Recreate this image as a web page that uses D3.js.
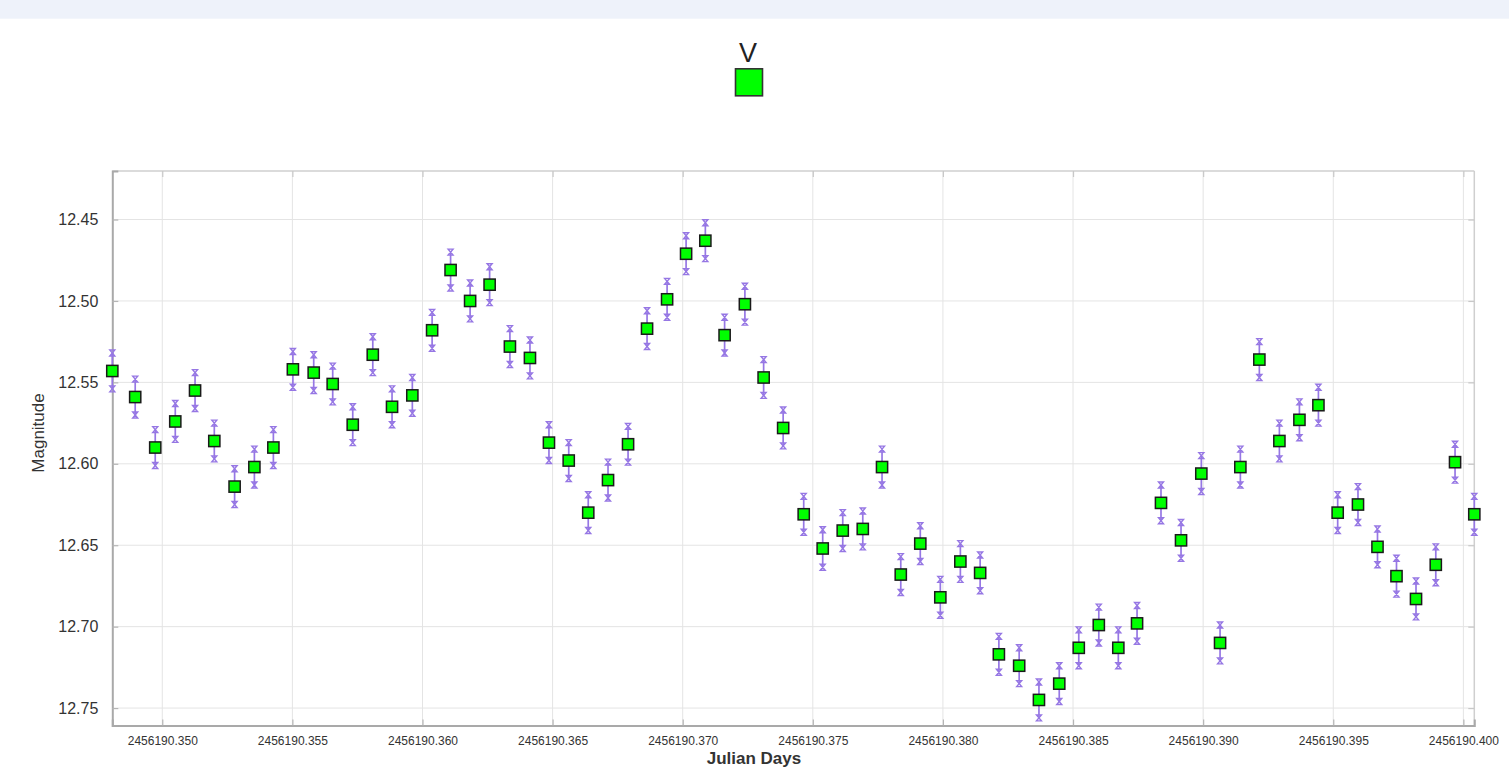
<!DOCTYPE html>
<html>
<head>
<meta charset="utf-8">
<script src="https://cdn.jsdelivr.net/npm/d3@7"></script>
<style>
  html, body { margin: 0; padding: 0; background: #fff; }
  svg { display: block; font-family: "Liberation Sans", Arial, sans-serif; }
</style>
</head>
<body>
<svg id="chart" width="1509" height="770"></svg>
<script>
// V-band light curve: Julian Date, magnitude and 1-sigma error
const seriesName = "V";
const jd = [
  2456190.34808, 2456190.34896, 2456190.34973, 2456190.35050, 2456190.35126,
  2456190.35200, 2456190.35278, 2456190.35354, 2456190.35427, 2456190.35502,
  2456190.35582, 2456190.35655, 2456190.35732, 2456190.35809, 2456190.35883,
  2456190.35961, 2456190.36037, 2456190.36108, 2456190.36183, 2456190.36258,
  2456190.36336, 2456190.36413, 2456190.36486, 2456190.36562, 2456190.36637,
  2456190.36713, 2456190.36790, 2456190.36863, 2456190.36940, 2456190.37013,
  2456190.37087, 2456190.37161, 2456190.37239, 2456190.37311, 2456190.37386,
  2456190.37465, 2456190.37538, 2456190.37615, 2456190.37692, 2456190.37766,
  2456190.37838, 2456190.37913, 2456190.37990, 2456190.38067, 2456190.38143,
  2456190.38215, 2456190.38293, 2456190.38369, 2456190.38447, 2456190.38522,
  2456190.38599, 2456190.38674, 2456190.38746, 2456190.38838, 2456190.38915,
  2456190.38993, 2456190.39065, 2456190.39143, 2456190.39216, 2456190.39293,
  2456190.39370, 2456190.39443, 2456190.39517, 2456190.39595, 2456190.39670,
  2456190.39743, 2456190.39818, 2456190.39894, 2456190.39968, 2456190.40042
];
const mag = [
  12.543, 12.559, 12.590, 12.574, 12.555, 12.586, 12.614, 12.602, 12.590, 12.542,
  12.544, 12.551, 12.576, 12.533, 12.565, 12.558, 12.518, 12.481, 12.500, 12.490,
  12.528, 12.535, 12.587, 12.598, 12.630, 12.610, 12.588, 12.517, 12.499, 12.471,
  12.463, 12.521, 12.502, 12.547, 12.578, 12.631, 12.652, 12.641, 12.640, 12.602,
  12.668, 12.649, 12.682, 12.660, 12.667, 12.717, 12.724, 12.745, 12.735, 12.713,
  12.699, 12.713, 12.698, 12.624, 12.647, 12.606, 12.710, 12.602, 12.536, 12.586,
  12.573, 12.564, 12.630, 12.625, 12.651, 12.669, 12.683, 12.662, 12.599, 12.631
];
const err = [
  0.011, 0.011, 0.011, 0.011, 0.011, 0.011, 0.011, 0.011, 0.011, 0.011,
  0.011, 0.011, 0.011, 0.011, 0.011, 0.011, 0.011, 0.011, 0.011, 0.011,
  0.011, 0.011, 0.011, 0.011, 0.011, 0.011, 0.011, 0.011, 0.011, 0.011,
  0.011, 0.011, 0.011, 0.011, 0.011, 0.011, 0.0115, 0.011, 0.011, 0.011,
  0.011, 0.011, 0.011, 0.011, 0.011, 0.011, 0.011, 0.011, 0.011, 0.011,
  0.011, 0.011, 0.011, 0.011, 0.011, 0.011, 0.011, 0.011, 0.011, 0.011,
  0.011, 0.011, 0.011, 0.011, 0.011, 0.011, 0.011, 0.011, 0.011, 0.011
];
const xTicks = [2456190.350, 2456190.355, 2456190.360, 2456190.365, 2456190.370,
                2456190.375, 2456190.380, 2456190.385, 2456190.390, 2456190.395, 2456190.400];
const yTicks = [12.45, 12.50, 12.55, 12.60, 12.65, 12.70, 12.75];
const magDomain = [12.4202, 12.7607];

const points = jd.map((t, i) => ({ t, m: mag[i], e: err[i] }));

const svg = d3.select("#chart");
const W = 1509;
const plot = { left: 112.3, right: 1474.3, top: 171, bottom: 725.5 };

// page header strip
svg.append("rect").attr("x", 0).attr("y", 0).attr("width", W).attr("height", 18.7)
  .attr("fill", "#eef2fa");

const x = d3.scaleLinear().domain(d3.extent(jd)).range([plot.left, plot.right]);
// magnitudes grow downward
const y = d3.scaleLinear().domain(magDomain).range([plot.top, plot.bottom]);

// grid
const grid = svg.append("g");
grid.selectAll(".vg").data(xTicks).join("line")
  .attr("x1", d => x(d)).attr("x2", d => x(d))
  .attr("y1", plot.top).attr("y2", plot.bottom)
  .attr("stroke", "#e4e4e4").attr("stroke-width", 1);
grid.selectAll(".hg").data(yTicks).join("line")
  .attr("y1", d => y(d)).attr("y2", d => y(d))
  .attr("x1", plot.left).attr("x2", plot.right)
  .attr("stroke", "#e4e4e4").attr("stroke-width", 1);

// frame: light top/right, darker left/bottom
svg.append("line").attr("x1", plot.left).attr("x2", plot.right).attr("y1", plot.top).attr("y2", plot.top)
  .attr("stroke", "#cfcfcf").attr("stroke-width", 1.5);
svg.append("line").attr("x1", plot.right).attr("x2", plot.right).attr("y1", plot.top).attr("y2", plot.bottom)
  .attr("stroke", "#cfcfcf").attr("stroke-width", 1.5);

// axes with inward ticks
const fmtX = d3.format(".3f");
const fmtY = d3.format(".2f");
const axB = svg.append("g").attr("transform", `translate(0,${plot.bottom})`)
  .call(d3.axisBottom(x).tickValues(xTicks).tickSize(-6).tickPadding(11).tickFormat(fmtX));
const axL = svg.append("g").attr("transform", `translate(${plot.left},0)`)
  .call(d3.axisLeft(y).tickValues(yTicks).tickSize(-6).tickPadding(14).tickFormat(fmtY));
const axT = svg.append("g").attr("transform", `translate(0,${plot.top})`)
  .call(d3.axisTop(x).tickValues(xTicks).tickSize(-6).tickFormat(""));
const axR = svg.append("g").attr("transform", `translate(${plot.right},0)`)
  .call(d3.axisRight(y).tickValues(yTicks).tickSize(-6).tickFormat(""));

[axB, axL].forEach(g => {
  g.select(".domain").attr("stroke", "#a9a9a9").attr("stroke-width", 2);
  g.selectAll(".tick line").attr("stroke", "#b5b5b5").attr("stroke-width", 1.2);
});
[axT, axR].forEach(g => {
  g.select(".domain").remove();
  g.selectAll(".tick line").attr("stroke", "#c8c8c8").attr("stroke-width", 1.2);
});
axB.selectAll(".tick text").attr("font-size", 12).attr("fill", "#333");
axL.selectAll(".tick text").attr("font-size", 16).attr("fill", "#333");

// axis titles
svg.append("text").attr("x", 754).attr("y", 764).attr("text-anchor", "middle")
  .attr("font-size", 17).attr("font-weight", "bold").attr("fill", "#333").text("Julian Days");
svg.append("text").attr("transform", "translate(44,433) rotate(-90)").attr("text-anchor", "middle")
  .attr("font-size", 17).attr("fill", "#333").text("Magnitude");

// legend
svg.append("text").attr("x", 748).attr("y", 61.5).attr("text-anchor", "middle")
  .attr("font-size", 27).attr("fill", "#222").text(seriesName);
svg.append("rect").attr("x", 735.5).attr("y", 68.8).attr("width", 27).attr("height", 27)
  .attr("fill", "#00ff00").attr("stroke", "#333").attr("stroke-width", 1.6);

// error bars
const errColor = "#9677e4";
const eb = svg.append("g");
eb.selectAll("line").data(points).join("line")
  .attr("x1", d => x(d.t)).attr("x2", d => x(d.t))
  .attr("y1", d => y(d.m - d.e)).attr("y2", d => y(d.m + d.e))
  .attr("stroke", errColor).attr("stroke-width", 1.7);
// hourglass caps at both ends
const cap = "M-2.5,-3H2.5L-2.5,3H2.5Z";
eb.selectAll(".capTop").data(points).join("path")
  .attr("d", cap).attr("transform", d => `translate(${x(d.t)},${y(d.m - d.e)})`)
  .attr("fill", "none").attr("stroke", errColor).attr("stroke-width", 1.4);
eb.selectAll(".capBot").data(points).join("path")
  .attr("d", cap).attr("transform", d => `translate(${x(d.t)},${y(d.m + d.e)})`)
  .attr("fill", "none").attr("stroke", errColor).attr("stroke-width", 1.4);

// markers
svg.append("g").selectAll("rect").data(points).join("rect")
  .attr("x", d => x(d.t) - 5.6).attr("y", d => y(d.m) - 5.6)
  .attr("width", 11.2).attr("height", 11.2)
  .attr("fill", "#00ff00").attr("stroke", "#1a1a1a").attr("stroke-width", 1.5);
</script>
</body>
</html>
